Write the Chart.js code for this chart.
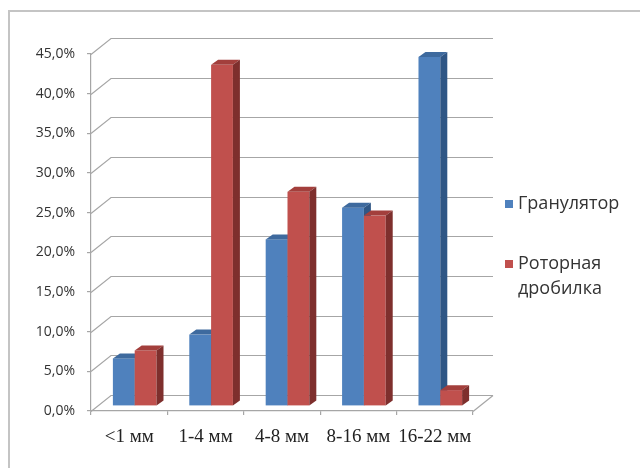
<!DOCTYPE html>
<html>
<head>
<meta charset="utf-8">
<script src="https://cdn.jsdelivr.net/npm/chart.js@4.4.1/dist/chart.umd.min.js"></script>
<style>
  html, body { margin: 0; padding: 0; background: #fff; }
  #wrap { width: 640px; height: 468px; position: relative; }
</style>
</head>
<body>
<div id="wrap"><canvas id="chart"></canvas></div>
<script>
// data
const categories = ['<1 мм', '1-4 мм', '4-8 мм', '8-16 мм', '16-22 мм'];
const granulator = [6, 9, 21, 25, 44];
const rotorCrusher = [7, 43, 27, 24, 2];
const seriesNames = ['Гранулятор', 'Роторная дробилка'];

// colours for front / top / side faces
const palette = [
    { front: '#4F81BD', top: '#3E6A9E', side: '#2F5685' },
    { front: '#C0504D', top: '#A33F3C', side: '#7E2F2D' }
];

// 3D offsets (px)
const WALL_DX = 20, WALL_DY = -16;   // depth of the floor / side wall
const BAR_DX = 5.5, BAR_DY = -5;     // bars stand in the middle of the floor
const DEPTH_X = 7, DEPTH_Y = -5;     // thickness of each bar

const GRID = '#a6a6a6';

const pseudo3d = {
    id: 'pseudo3d',
    beforeDatasetsDraw(chart) {
        const { ctx, chartArea: a, scales: { y } } = chart;
        ctx.save();
        ctx.strokeStyle = GRID;
        ctx.lineWidth = 1.2;
        // side wall diagonals + back wall gridlines
        y.ticks.forEach(t => {
            const py = Math.round(y.getPixelForValue(t.value)) + 0.5;
            ctx.beginPath();
            ctx.moveTo(a.left, py);
            ctx.lineTo(a.left + WALL_DX, py + WALL_DY);
            ctx.lineTo(a.right + WALL_DX, py + WALL_DY);
            ctx.stroke();
        });
        // right edge of the floor
        ctx.beginPath();
        ctx.moveTo(a.right, a.bottom + 0.5);
        ctx.lineTo(a.right + WALL_DX, a.bottom + 0.5 + WALL_DY);
        ctx.stroke();
        ctx.restore();
    },
    beforeDatasetDraw() {
        // bars are drawn below, category by category
        return false;
    },
    afterDatasetsDraw(chart) {
        const ctx = chart.ctx;
        const metas = chart.data.datasets.map((d, i) => chart.getDatasetMeta(i));
        ctx.save();
        ctx.translate(BAR_DX, BAR_DY);
        for (let j = 0; j < categories.length; j++) {
            metas.forEach((meta, i) => {
                const { x, y, base, width } = meta.data[j].getProps(['x', 'y', 'base', 'width'], true);
                const l = x - width / 2, r = x + width / 2;
                const c = palette[i];
                ctx.fillStyle = c.front;
                ctx.fillRect(l, y, width, base - y);
                ctx.fillStyle = c.top;
                ctx.beginPath();
                ctx.moveTo(l, y);
                ctx.lineTo(l + DEPTH_X, y + DEPTH_Y);
                ctx.lineTo(r + DEPTH_X, y + DEPTH_Y);
                ctx.lineTo(r, y);
                ctx.closePath();
                ctx.fill();
                ctx.fillStyle = c.side;
                ctx.beginPath();
                ctx.moveTo(r, y);
                ctx.lineTo(r + DEPTH_X, y + DEPTH_Y);
                ctx.lineTo(r + DEPTH_X, base + DEPTH_Y);
                ctx.lineTo(r, base);
                ctx.closePath();
                ctx.fill();
            });
        }
        ctx.restore();
    },
    afterDraw(chart) {
        const ctx = chart.ctx;
        ctx.save();
        // outer frame
        ctx.strokeStyle = '#c4c4c4';
        ctx.lineWidth = 2;
        ctx.strokeRect(9, 11, 700, 500);
        // legend
        ctx.font = '18px "Open Sans"';
        ctx.textBaseline = 'middle';
        const rows = [[204], [264, 289]];
        chart.data.datasets.forEach((ds, i) => {
            const ys = rows[i];
            ctx.fillStyle = palette[i].front;
            ctx.fillRect(505, ys[0] - 4, 8, 8);
            ctx.fillStyle = '#333';
            ds.label.split(' ').forEach((w, k) => ctx.fillText(w, 518, ys[k]));
        });
        ctx.restore();
    }
};

const ctx = document.getElementById('chart').getContext('2d');
new Chart(ctx, {
    type: 'bar',
    data: {
        labels: categories,
        datasets: [
            { label: seriesNames[0], data: granulator, backgroundColor: palette[0].front },
            { label: seriesNames[1], data: rotorCrusher, backgroundColor: palette[1].front }
        ]
    },
    options: {
        responsive: true,
        maintainAspectRatio: false,
        animation: false,
        layout: { padding: { top: 54, right: 167, bottom: 0, left: 0 } },
        datasets: { bar: { categoryPercentage: 0.571, barPercentage: 1 } },
        plugins: {
            legend: { display: false },
            tooltip: { enabled: false }
        },
        scales: {
            x: {
                grid: { drawOnChartArea: false, tickLength: 4, color: GRID, lineWidth: 1.2 },
                border: { color: GRID, width: 1.2 },
                ticks: {
                    font: { family: 'Liberation Serif', size: 19 },
                    color: '#222',
                    padding: 11,
                    maxRotation: 0,
                    autoSkip: false
                },
                afterFit(s) { s.height = 57; }
            },
            y: {
                min: 0,
                max: 45,
                grid: { drawOnChartArea: false, tickLength: 4, color: GRID, lineWidth: 1.2 },
                border: { color: GRID, width: 1.2 },
                ticks: {
                    stepSize: 5,
                    font: { family: 'Open Sans', size: 14 },
                    color: '#333',
                    padding: 12,
                    callback: v => v.toFixed(1).replace('.', ',') + '%'
                },
                afterFit(s) { s.width = 91; }
            }
        }
    },
    plugins: [pseudo3d]
});
</script>
</body>
</html>
